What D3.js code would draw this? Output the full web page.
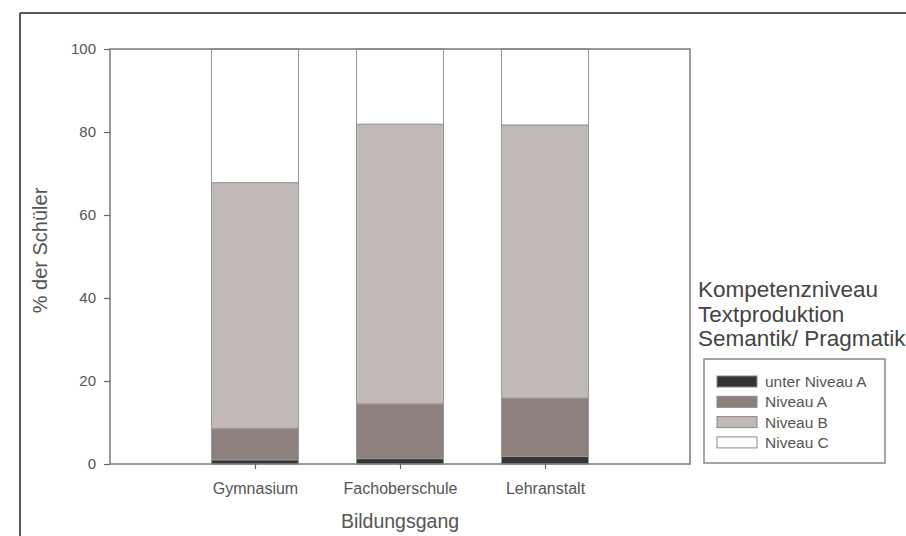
<!DOCTYPE html>
<html>
<head>
<meta charset="utf-8">
<script src="https://cdn.jsdelivr.net/npm/d3@7"></script>
<style>
  html, body { margin: 0; padding: 0; background: #fff; }
  svg { display: block; font-family: "Liberation Sans", Arial, sans-serif; }
</style>
</head>
<body>
<svg id="chart" width="906" height="536"></svg>
<script>
// ---- data ----
const categories = ["Gymnasium", "Fachoberschule", "Lehranstalt"];
const seriesNames = ["unter Niveau A", "Niveau A", "Niveau B", "Niveau C"];
const unterNiveauA = [1.0, 1.3, 1.8];
const niveauA = [7.6, 13.2, 14.1];
const niveauB = [59.2, 67.4, 65.8];
const niveauC = [32.2, 18.1, 18.3];
const yTicks = [0, 20, 40, 60, 80, 100];
const legendTitle = ["Kompetenzniveau", "Textproduktion", "Semantik/ Pragmatik"];
const xTitle = "Bildungsgang";
const yTitle = "% der Schüler";
const colors = ["#383334", "#8d817e", "#c1b9b7", "#ffffff"];

const seriesValues = [unterNiveauA, niveauA, niveauB, niveauC];
const rows = categories.map((c, i) => {
  const r = { cat: c };
  seriesNames.forEach((s, j) => r[s] = seriesValues[j][i]);
  return r;
});

const svg = d3.select("#chart");
const m = { left: 110, right: 690, top: 49, bottom: 464 };

// outer frame (top & left lines)
svg.append("line").attr("x1", 20).attr("x2", 906).attr("y1", 13).attr("y2", 13)
  .attr("stroke", "#222").attr("stroke-width", 1.5);
svg.append("line").attr("x1", 20).attr("x2", 20).attr("y1", 13).attr("y2", 536)
  .attr("stroke", "#222").attr("stroke-width", 1.5);

const x = d3.scalePoint().domain(categories).range([m.left, m.right]).padding(1);
const step = x.step();
const barW = step * 0.6;
const y = d3.scaleLinear().domain([0, 100]).range([m.bottom, m.top]);

const stack = d3.stack().keys(seriesNames)(rows);

const g = svg.append("g");
stack.forEach((layer, li) => {
  g.selectAll(null).data(layer).enter().append("rect")
    .attr("x", d => x(d.data.cat) - barW / 2)
    .attr("width", barW)
    .attr("y", d => y(d[1]))
    .attr("height", d => y(d[0]) - y(d[1]))
    .attr("fill", colors[li])
    .attr("stroke", "#9a9696")
    .attr("stroke-width", 1);
});

// plot frame
svg.append("rect").attr("x", m.left).attr("y", m.top)
  .attr("width", m.right - m.left).attr("height", m.bottom - m.top)
  .attr("fill", "none").attr("stroke", "#7a7a7a").attr("stroke-width", 1.5);

// y axis
const yAxis = d3.axisLeft(y).tickValues(yTicks).tickSize(6).tickPadding(8);
const ya = svg.append("g").attr("transform", `translate(${m.left},0)`).call(yAxis);
ya.select(".domain").remove();
ya.selectAll("line").attr("stroke", "#666").attr("stroke-width", 1.2);
ya.selectAll("text").attr("fill", "#555").style("font-size", "15px")
  .style("font-family", "'Liberation Sans', Arial, sans-serif");

// x axis
const xAxis = d3.axisBottom(x).tickSize(5).tickPadding(14);
const xa = svg.append("g").attr("transform", `translate(0,${m.bottom})`).call(xAxis);
xa.select(".domain").remove();
xa.selectAll("line").attr("stroke", "#666").attr("stroke-width", 1.2);
xa.selectAll("text").attr("fill", "#555").style("font-size", "16px")
  .style("font-family", "'Liberation Sans', Arial, sans-serif");

// axis titles
svg.append("text").attr("x", x(categories[1])).attr("y", 528)
  .attr("text-anchor", "middle").attr("fill", "#555").style("font-size", "19.5px")
  .text(xTitle);
svg.append("text").attr("transform", `translate(47,${(m.top + m.bottom) / 2 - 6}) rotate(-90)`)
  .attr("text-anchor", "middle").attr("fill", "#555").style("font-size", "20px")
  .text(yTitle);

// legend title
svg.selectAll(null).data(legendTitle).enter().append("text")
  .attr("x", 698).attr("y", (d, i) => 297 + i * 24.5)
  .attr("fill", "#444").style("font-size", "22.5px")
  .text(d => d);

// legend box
svg.append("rect").attr("x", 704).attr("y", 359).attr("width", 181).attr("height", 104)
  .attr("fill", "none").attr("stroke", "#888").attr("stroke-width", 1.5);
const leg = svg.selectAll(null).data(seriesNames).enter().append("g")
  .attr("transform", (d, i) => `translate(717,${381.5 + i * 20.3})`);
leg.append("rect").attr("x", 0).attr("y", -5.5).attr("width", 40).attr("height", 11)
  .attr("fill", (d, i) => colors[i]).attr("stroke", "#888").attr("stroke-width", 1);
leg.append("text").attr("x", 48).attr("y", 5.5).attr("fill", "#555")
  .style("font-size", "15.5px").text(d => d);
</script>
</body>
</html>
